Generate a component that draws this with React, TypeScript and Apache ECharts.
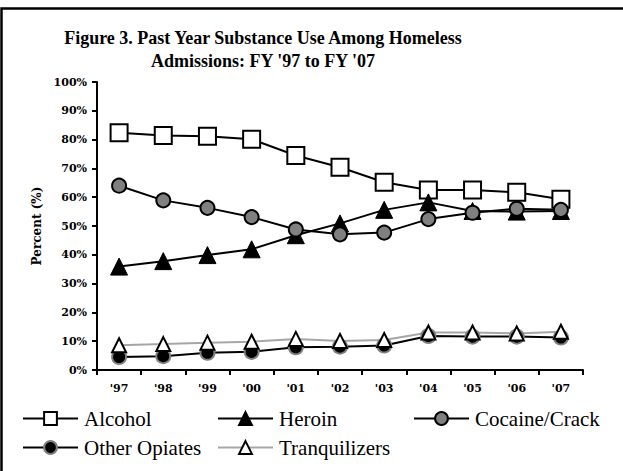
import React, { useEffect, useRef } from "react";
import * as echarts from "echarts";

const years = ["'97", "'98", "'99", "'00", "'01", "'02", "'03", "'04", "'05", "'06", "'07"];
const alcohol = [82.4, 81.4, 81.2, 80.1, 74.5, 70.4, 65.2, 62.5, 62.5, 61.7, 59.3];
const heroin = [35.9, 37.8, 39.9, 41.9, 46.8, 50.9, 55.6, 58.2, 55.2, 55.0, 55.2];
const cocaine = [64.0, 58.9, 56.3, 53.1, 48.8, 47.1, 47.7, 52.4, 54.6, 56.0, 55.6];
const otherOpiates = [4.5, 4.8, 6.0, 6.3, 7.9, 8.1, 8.5, 11.8, 11.6, 11.6, 11.3];
const tranquilizers = [8.6, 9.0, 9.5, 9.8, 10.8, 10.1, 10.4, 13.0, 13.0, 12.7, 13.3];
const yTicks = [0, 10, 20, 30, 40, 50, 60, 70, 80, 90, 100];

const serif = "'Liberation Serif', 'Times New Roman', serif";
const axisFont = "'DejaVu Serif', serif";

export default function App() {
  const ref = useRef<HTMLDivElement>(null);
  useEffect(() => {
    if (!ref.current) return;
    const chart = echarts.init(ref.current, undefined, { renderer: "svg" });
    const legendText = { fontFamily: serif, fontSize: 21, color: "#000" };
    const mkLegend = (name: string, left: number, top: number) => ({
      data: [name],
      left,
      top,
      itemWidth: 55,
      itemHeight: 16,
      itemGap: 0,
      padding: 0,
      textStyle: { ...legendText, padding: [0, 0, 0, 1] },
      selectedMode: false,
    });
    chart.setOption({
      animation: false,
      backgroundColor: "#fff",
      title: {
        text: "Figure 3. Past Year Substance Use Among Homeless\nAdmissions: FY '97 to FY '07",
        left: 263,
        top: 26,
        textAlign: "center",
        padding: 0,
        textStyle: {
          fontFamily: serif,
          fontWeight: "bold",
          fontSize: 18,
          lineHeight: 23,
          color: "#000",
        },
      },
      graphic: [
        {
          type: "rect",
          shape: { x: 1.5, y: 8.5, width: 700, height: 600 },
          style: { fill: "none", stroke: "#000", lineWidth: 2.5 },
          silent: true,
        },
      ],
      legend: [
        mkLegend("Alcohol", 22, 408),
        mkLegend("Heroin", 217, 408),
        mkLegend("Cocaine/Crack", 413, 408),
        mkLegend("Other Opiates", 22, 437),
        mkLegend("Tranquilizers", 217, 437),
      ],
      grid: { left: 97, right: 40, top: 82, bottom: 101, containLabel: false },
      xAxis: {
        type: "category",
        data: years,
        boundaryGap: true,
        axisLine: { lineStyle: { color: "#000", width: 2 } },
        axisTick: { show: true, length: 5, inside: false, lineStyle: { color: "#000", width: 2 } },
        axisLabel: {
          margin: 13,
          fontFamily: axisFont,
          fontWeight: "bold",
          fontSize: 11,
          color: "#000",
        },
        splitLine: { show: false },
      },
      yAxis: {
        type: "value",
        min: 0,
        max: 100,
        interval: 10,
        name: "Percent (%)",
        nameLocation: "middle",
        nameGap: 52,
        nameTextStyle: {
          fontFamily: axisFont,
          fontWeight: "bold",
          fontSize: 12,
          color: "#000",
        },
        axisLine: { show: true, lineStyle: { color: "#000", width: 2 } },
        axisTick: { show: true, length: 5, lineStyle: { color: "#000", width: 2 } },
        axisLabel: {
          margin: 10,
          fontFamily: axisFont,
          fontWeight: "bold",
          fontSize: 11,
          color: "#000",
          formatter: (v: number) => (yTicks.includes(v) ? v + "%" : ""),
        },
        splitLine: { show: false },
      },
      series: [
        {
          name: "Alcohol",
          type: "line",
          data: alcohol,
          symbol: "rect",
          symbolSize: 17,
          lineStyle: { color: "#000", width: 2 },
          itemStyle: { color: "#fff", borderColor: "#000", borderWidth: 2 },
        },
        {
          name: "Heroin",
          type: "line",
          data: heroin,
          symbol: "triangle",
          symbolSize: 17,
          lineStyle: { color: "#000", width: 2 },
          itemStyle: { color: "#000", borderColor: "#000", borderWidth: 1 },
        },
        {
          name: "Cocaine/Crack",
          type: "line",
          data: cocaine,
          symbol: "circle",
          symbolSize: 14,
          lineStyle: { color: "#000", width: 2 },
          itemStyle: { color: "#808080", borderColor: "#000", borderWidth: 2 },
        },
        {
          name: "Other Opiates",
          type: "line",
          data: otherOpiates,
          symbol: "circle",
          symbolSize: 14,
          lineStyle: { color: "#000", width: 2 },
          itemStyle: { color: "#000", borderColor: "#808080", borderWidth: 2 },
        },
        {
          name: "Tranquilizers",
          type: "line",
          data: tranquilizers,
          symbol: "triangle",
          symbolSize: 14,
          lineStyle: { color: "#a6a6a6", width: 2 },
          itemStyle: { color: "#fff", borderColor: "#000", borderWidth: 2 },
        },
      ],
    });
    return () => chart.dispose();
  }, []);
  return (
    <div
      ref={ref}
      style={{ position: "absolute", left: 0, top: 0, width: 623, height: 471, background: "#fff" }}
    />
  );
}
